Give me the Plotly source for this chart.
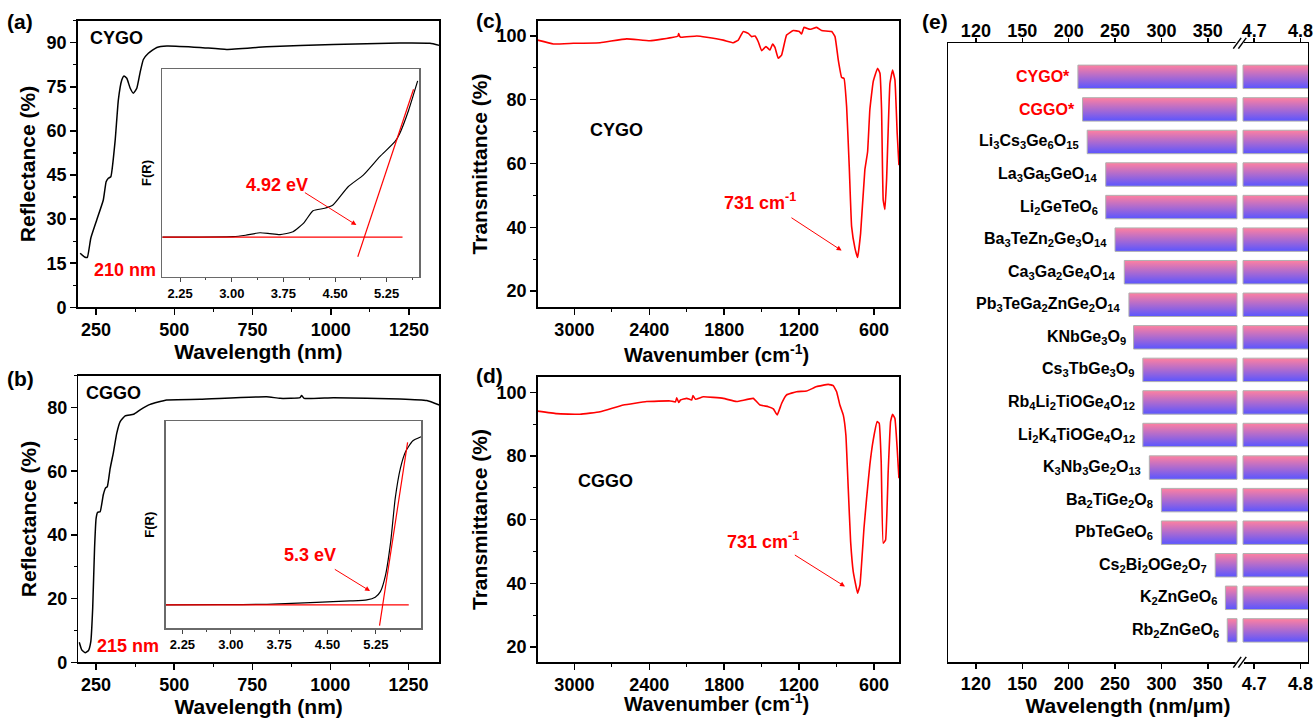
import plotly.graph_objects as go
import numpy as np

FONT = "Liberation Sans, Arial, sans-serif"
RED = "#ff0000"

# ---------------- (a) CYGO diffuse reflectance ----------------
a_wl = [199, 215, 222, 233, 252, 273, 282, 289, 297, 311, 321, 332, 339, 348, 359, 369, 380, 391, 401, 417,
        444, 476, 582, 667, 795, 1008, 1221, 1317, 1347]
a_refl = [18.4, 17.0, 17.0, 23.5, 29.7, 36.5, 42.7, 43.9, 44.4, 56.9, 70.5, 77.3, 78.7, 77.9, 74.5, 72.8, 74.5,
          80.1, 84.3, 86.4, 88.4, 88.9, 88.4, 87.7, 88.6, 89.4, 89.9, 89.8, 89.1]
a_ins_ev = [1.99, 2.5, 3.02, 3.2, 3.41, 3.55, 3.70, 3.89, 4.04, 4.18, 4.35, 4.47, 4.69, 4.91, 5.15, 5.37, 5.44, 5.57, 5.70]
a_ins_f = [0.191, 0.191, 0.193, 0.200, 0.212, 0.208, 0.203, 0.217, 0.257, 0.318, 0.330, 0.346, 0.434, 0.49,
           0.579, 0.651, 0.691, 0.804, 0.944]
a_base_ev = [1.99, 5.48]
a_base_f = [0.191, 0.191]
a_tan_ev = [4.83, 5.64]
a_tan_f = [0.096, 0.904]

# ---------------- (b) CGGO diffuse reflectance ----------------
b_wl = [196, 204, 215, 225, 233, 239, 245, 250, 255, 263, 273, 280, 286, 295, 305, 316, 327, 343, 370, 391,
        423, 476, 583, 796, 839, 903, 908, 916, 1010, 1223, 1309, 1349]
b_refl = [6.3, 3.9, 3.0, 3.6, 6.5, 17.0, 35.8, 45.2, 47.1, 47.3, 52.6, 54.7, 55.2, 60.9, 65.7, 71.9, 75.6, 77.4,
          77.9, 79.3, 81.0, 82.4, 82.6, 83.4, 82.9, 83.1, 83.8, 82.9, 83.1, 82.7, 82.2, 80.8]
b_ins_ev = [1.99, 2.8, 3.56, 4.33, 4.85, 5.11, 5.24, 5.32, 5.40, 5.48, 5.55, 5.63, 5.71, 5.82, 5.95]
b_ins_f = [0.113, 0.114, 0.116, 0.125, 0.132, 0.137, 0.150, 0.177, 0.257, 0.418, 0.627, 0.772, 0.852, 0.904, 0.924]
b_base_ev = [1.99, 5.76]
b_base_f = [0.113, 0.113]
b_tan_ev = [5.307, 5.742]
b_tan_f = [0.013, 0.897]

# ---------------- (c) CYGO FTIR ----------------
c_wn = [3294, 3168, 3008, 2794, 2581, 2394, 2207, 2170, 2164, 2158, 2148, 2020, 1940, 1807, 1727, 1687, 1647,
        1607, 1580, 1553, 1527, 1500, 1465, 1433, 1412, 1393, 1367, 1340, 1300, 1246, 1198, 1180, 1161, 1113,
        1059, 1019, 939, 912, 886, 859, 840, 819, 798, 779, 752, 731, 707, 673, 651, 633, 606, 571, 552, 539,
        526, 512, 499, 472, 451, 432, 414, 400]
c_t = [98.7, 97.5, 97.7, 97.9, 99.1, 98.5, 99.6, 100.0, 100.8, 100.0, 99.6, 100.0, 99.6, 98.7, 97.9, 98.7, 101.4,
       100.8, 99.8, 100.0, 98.2, 95.4, 96.7, 95.6, 97.5, 96.4, 93.0, 94.0, 100.3, 101.7, 101.4, 100.6, 102.7,
       102.1, 102.7, 101.7, 101.4, 99.8, 92.5, 87.0, 86.7, 77.8, 59.0, 40.2, 33.4, 30.5, 38.1, 58.0, 63.7, 76.8,
       85.7, 89.9, 88.3, 76.8, 48.5, 45.6, 54.8, 85.1, 89.3, 86.2, 69.5, 59.5]

# ---------------- (d) CGGO FTIR ----------------
d_wn = [3294, 3141, 2955, 2794, 2608, 2421, 2234, 2190, 2180, 2164, 2150, 2100, 2060, 2050, 2030, 1967, 1807,
        1700, 1567, 1513, 1447, 1406, 1375, 1340, 1300, 1220, 1140, 1059, 966, 926, 899, 873, 846, 825, 806,
        787, 766, 731, 712, 680, 659, 633, 606, 574, 558, 542, 526, 507, 486, 467, 451, 432, 414, 400]
d_t = [94.1, 93.3, 93.1, 93.9, 96.0, 97.1, 97.3, 97.0, 98.3, 96.8, 97.6, 98.1, 97.6, 99.0, 97.8, 98.6, 98.1,
       97.1, 98.1, 96.0, 95.5, 94.8, 92.9, 96.5, 99.2, 100.2, 100.4, 101.8, 102.5, 102.1, 100.2, 96.0, 92.9,
       86.6, 69.8, 53.1, 43.7, 36.9, 39.5, 57.3, 66.7, 77.2, 85.0, 90.8, 90.3, 78.2, 52.6, 53.6, 75.1, 90.8,
       93.1, 91.8, 82.4, 73.0]

# ---------------- (e) UV cutoff comparison ----------------
compounds = ["CYGO*", "CGGO*",
             "Li<sub>3</sub>Cs<sub>3</sub>Ge<sub>6</sub>O<sub>15</sub>",
             "La<sub>3</sub>Ga<sub>5</sub>GeO<sub>14</sub>",
             "Li<sub>2</sub>GeTeO<sub>6</sub>",
             "Ba<sub>3</sub>TeZn<sub>2</sub>Ge<sub>3</sub>O<sub>14</sub>",
             "Ca<sub>3</sub>Ga<sub>2</sub>Ge<sub>4</sub>O<sub>14</sub>",
             "Pb<sub>3</sub>TeGa<sub>2</sub>ZnGe<sub>2</sub>O<sub>14</sub>",
             "KNbGe<sub>3</sub>O<sub>9</sub>",
             "Cs<sub>3</sub>TbGe<sub>3</sub>O<sub>9</sub>",
             "Rb<sub>4</sub>Li<sub>2</sub>TiOGe<sub>4</sub>O<sub>12</sub>",
             "Li<sub>2</sub>K<sub>4</sub>TiOGe<sub>4</sub>O<sub>12</sub>",
             "K<sub>3</sub>Nb<sub>3</sub>Ge<sub>2</sub>O<sub>13</sub>",
             "Ba<sub>2</sub>TiGe<sub>2</sub>O<sub>8</sub>",
             "PbTeGeO<sub>6</sub>",
             "Cs<sub>2</sub>Bi<sub>2</sub>OGe<sub>2</sub>O<sub>7</sub>",
             "K<sub>2</sub>ZnGeO<sub>6</sub>",
             "Rb<sub>2</sub>ZnGeO<sub>6</sub>"]
this_work = [True, True, False, False, False, False, False, False, False, False, False, False, False, False,
             False, False, False, False]
uv_cutoff_nm = [210, 215, 220, 240, 240, 250, 260, 265, 270, 280, 280, 280, 287, 300, 300, 358, 369, 371]
ir_edge_um = [4.82, 4.82, 4.82, 4.82, 4.82, 4.82, 4.82, 4.82, 4.82, 4.82, 4.82, 4.82, 4.82, 4.82, 4.82, 4.82,
              4.82, 4.82]
e_tick_nm = [120, 150, 200, 250, 300, 350]
e_tick_um = [4.7, 4.8]
e_tick_text = ["120", "150", "200", "250", "300", "350", "4.7", "4.8"]

# broken-axis scale for panel (e): evenly spaced nm ticks, then a µm segment
NM_SCALE = e_tick_nm + [400]
BREAK_LO, BREAK_HI = 5.63, 5.76


def nm_pos(v):
    return float(np.interp(v, NM_SCALE, np.arange(len(NM_SCALE))))


def um_pos(v):
    return len(e_tick_nm) + (v - e_tick_um[0]) / (e_tick_um[1] - e_tick_um[0])


# ---------------- layout geometry (paper fractions) ----------------
DOM = {
    "a": ([0.0591, 0.3341], [0.572, 0.9712]),
    "ai": ([0.1235, 0.3189], [0.6146, 0.9035]),
    "b": ([0.0596, 0.3341], [0.0776, 0.4767]),
    "bi": ([0.1261, 0.3204], [0.1249, 0.4136]),
    "c": ([0.4092, 0.6844], [0.572, 0.9712]),
    "d": ([0.4092, 0.6844], [0.0776, 0.4753]),
    "e": ([0.7215, 0.9954], [0.0776, 0.9397]),
}

fig = go.Figure()


def line(x, y, xa, ya, color="black", width=1.5, shape="linear", smooth=None):
    ln = dict(color=color, width=width, shape=shape)
    if smooth is not None:
        ln["smoothing"] = smooth
    fig.add_trace(go.Scatter(x=x, y=y, mode="lines", line=ln, xaxis=xa, yaxis=ya,
                             showlegend=False, hoverinfo="skip"))


line(a_wl, a_refl, "x", "y", shape="spline", smooth=0.4)
line(a_ins_ev, a_ins_f, "x2", "y2", width=1.2, shape="spline", smooth=0.5)
line(a_base_ev, a_base_f, "x2", "y2", color=RED, width=1.2)
line(a_tan_ev, a_tan_f, "x2", "y2", color=RED, width=1.2)
line(b_wl, b_refl, "x3", "y3", shape="spline", smooth=0.4)
line(b_ins_ev, b_ins_f, "x4", "y4", width=1.2, shape="spline", smooth=0.5)
line(b_base_ev, b_base_f, "x4", "y4", color=RED, width=1.2)
line(b_tan_ev, b_tan_f, "x4", "y4", color=RED, width=1.2)
line(c_wn, c_t, "x5", "y5", color=RED, width=1.6, shape="spline", smooth=0.3)
line(d_wn, d_t, "x6", "y6", color=RED, width=1.6, shape="spline", smooth=0.3)

# ---- panel (e) bars with vertical gradient ----
n = len(compounds)
BAR_H = 0.36
grad = dict(type="vertical", colorscale=[[0, "#5a55ff"], [1, "#ff80a0"]])
annos = []
for i in range(n):
    yc = n - 1 - i
    x0 = nm_pos(uv_cutoff_nm[i])
    x1 = um_pos(ir_edge_um[i])
    y0, y1 = yc - BAR_H, yc + BAR_H
    xs = [x0, BREAK_LO, BREAK_LO, x0, x0, None, BREAK_HI, x1, x1, BREAK_HI, BREAK_HI]
    ys = [y0, y0, y1, y1, y0, None, y0, y0, y1, y1, y0]
    fig.add_trace(go.Scatter(x=xs, y=ys, mode="lines", fill="toself", fillgradient=grad,
                             line=dict(color="#b0b0b0", width=1), xaxis="x7", yaxis="y7",
                             showlegend=False, hoverinfo="skip"))
    annos.append(dict(x=x0, y=yc, xref="x7", yref="y7", text=compounds[i], showarrow=False,
                      xanchor="right", yanchor="middle", xshift=-6,
                      font=dict(family=FONT, size=16, weight="bold",
                                color=RED if this_work[i] else "black")))

# invisible trace for the top axis of (e)
fig.add_trace(go.Scatter(x=[0], y=[0], mode="markers", marker=dict(opacity=0), xaxis="x8", yaxis="y7",
                         showlegend=False, hoverinfo="skip"))

TICKF = dict(family=FONT, size=18, weight="bold", color="black")
TITLEF = dict(family=FONT, size=21, weight="bold", color="black")


def main_axis(dom, rng, title, dtick, minor_dtick, anchor, tick0=None, fmt=None, standoff=4):
    ax = dict(domain=dom, range=rng, showline=True, linecolor="black", linewidth=1.5, mirror=True,
              ticks="outside", ticklen=6, tickwidth=1.5, tickcolor="black", dtick=dtick,
              minor=dict(ticks="outside", ticklen=3, tickwidth=1.2, dtick=minor_dtick, tickcolor="black"),
              showgrid=False, zeroline=False, tickfont=TICKF, anchor=anchor, automargin=False)
    if title:
        ax["title"] = dict(text=title, font=TITLEF, standoff=standoff)
    if tick0 is not None:
        ax["tick0"] = tick0
        ax["minor"]["tick0"] = tick0
    if fmt:
        ax["tickformat"] = fmt
    return ax


def inset_axes(domx, domy, xr, anchor_x, anchor_y):
    xa = dict(domain=domx, range=xr, showline=True, linecolor="#6a6a6a", linewidth=1.5, mirror=True,
              ticks="outside", ticklen=4, tickwidth=1, tickcolor="#444", tick0=2.25, dtick=0.75,
              tickformat=".2f", minor=dict(ticks="outside", ticklen=2, dtick=0.375, tick0=2.25, tickcolor="#444"),
              showgrid=False, zeroline=False, anchor=anchor_y, automargin=False,
              tickfont=dict(family=FONT, size=13, weight="bold", color="black"))
    ya = dict(domain=domy, range=[0, 1], showline=True, linecolor="#6a6a6a", linewidth=1.5, mirror=True,
              showticklabels=False, ticks="", showgrid=False, zeroline=False, anchor=anchor_x, automargin=False,
              title=dict(text="F(R)", font=dict(family=FONT, size=13, weight="bold", color="black"), standoff=6))
    return xa, ya


lay = dict(width=1314, height=718, margin=dict(l=0, r=0, t=0, b=0), paper_bgcolor="white",
           plot_bgcolor="white", font=dict(family=FONT, weight="bold", color="black"), showlegend=False)

lay["xaxis"] = main_axis(DOM["a"][0], [191, 1346], "Wavelength (nm)", 250, 125, "y", tick0=250)
lay["yaxis"] = main_axis(DOM["a"][1], [0, 97.5], "Reflectance (%)", 15, 7.5, "x", tick0=0, standoff=5)
lay["xaxis2"], lay["yaxis2"] = inset_axes(DOM["ai"][0], DOM["ai"][1], [1.99, 5.72], "x2", "y2")
lay["xaxis3"] = main_axis(DOM["b"][0], [193, 1348], "Wavelength (nm)", 250, 125, "y3", tick0=250)
lay["yaxis3"] = main_axis(DOM["b"][1], [0, 90], "Reflectance (%)", 20, 10, "x3", tick0=0, standoff=5)
lay["xaxis4"], lay["yaxis4"] = inset_axes(DOM["bi"][0], DOM["bi"][1], [1.99, 5.95], "x4", "y4")
lay["xaxis5"] = main_axis(DOM["c"][0], [3294, 397], None, 600, 300, "y5", tick0=600)
lay["yaxis5"] = main_axis(DOM["c"][1], [14.9, 104.8], "Transmittance (%)", 20, 10, "x5", tick0=0, standoff=3)
lay["xaxis6"] = main_axis(DOM["d"][0], [3294, 397], None, 600, 300, "y6", tick0=600)
lay["yaxis6"] = main_axis(DOM["d"][1], [15.2, 104.9], "Transmittance (%)", 20, 10, "x6", tick0=0, standoff=3)

e_ticks = [nm_pos(v) for v in e_tick_nm] + [um_pos(v) for v in e_tick_um]
E_RANGE = [-0.6, 7.16]
lay["xaxis7"] = dict(domain=DOM["e"][0], range=E_RANGE, showline=True, linecolor="black", linewidth=1.5,
                     mirror=True, ticks="outside", ticklen=5, tickwidth=1.5, tickcolor="black",
                     tickmode="array", tickvals=e_ticks, ticktext=e_tick_text, showgrid=False,
                     zeroline=False, tickfont=TICKF, anchor="y7", automargin=False,
                     title=dict(text="Wavelength (nm/µm)", font=TITLEF, standoff=4))
lay["xaxis8"] = dict(range=E_RANGE, overlaying="x7", side="top", anchor="y7", ticks="outside", ticklen=4,
                     tickwidth=1.5, tickcolor="black", tickmode="array", tickvals=e_ticks, ticktext=e_tick_text,
                     showgrid=False, zeroline=False, tickfont=TICKF, automargin=False, showline=False,
                     ticklabelstandoff=-6)
lay["yaxis7"] = dict(domain=DOM["e"][1], range=[-0.98, n - 1 + 1.03], showline=True, linecolor="black",
                     linewidth=1.5, mirror=True, showticklabels=False, ticks="", showgrid=False,
                     zeroline=False, anchor="x7", automargin=False)

# text annotations
TXT = dict(family=FONT, size=18, weight="bold")
annos += [
    dict(x=314, y=91.5, xref="x", yref="y", text="CYGO", showarrow=False, font=dict(TXT, color="black")),
    dict(x=343, y=12.6, xref="x", yref="y", text="210 nm", showarrow=False, font=dict(TXT, color=RED)),
    dict(x=3.65, y=0.44, xref="x2", yref="y2", text="4.92 eV", showarrow=False, font=dict(TXT, color=RED)),
    dict(x=4.81, y=0.249, xref="x2", yref="y2", ax=4.04, ay=0.41, axref="x2", ayref="y2", text="",
         showarrow=True, arrowhead=2, arrowsize=1, arrowwidth=1, arrowcolor=RED),
    dict(x=305, y=84.5, xref="x3", yref="y3", text="CGGO", showarrow=False, font=dict(TXT, color="black")),
    dict(x=351, y=5.2, xref="x3", yref="y3", text="215 nm", showarrow=False, font=dict(TXT, color=RED)),
    dict(x=4.23, y=0.355, xref="x4", yref="y4", text="5.3 eV", showarrow=False, font=dict(TXT, color=RED)),
    dict(x=5.16, y=0.18, xref="x4", yref="y4", ax=4.59, ay=0.289, axref="x4", ayref="y4", text="",
         showarrow=True, arrowhead=2, arrowsize=1, arrowwidth=1, arrowcolor=RED),
    dict(x=2661, y=70.5, xref="x5", yref="y5", text="CYGO", showarrow=False, font=dict(TXT, color="black")),
    dict(x=1513, y=48.0, xref="x5", yref="y5", text="731 cm<sup>-1</sup>", showarrow=False,
         font=dict(TXT, color=RED)),
    dict(x=859, y=32.7, xref="x5", yref="y5", ax=1273, ay=43.3, axref="x5", ayref="y5", text="",
         showarrow=True, arrowhead=2, arrowsize=1, arrowwidth=1, arrowcolor=RED),
    dict(x=2749, y=72.1, xref="x6", yref="y6", text="CGGO", showarrow=False, font=dict(TXT, color="black")),
    dict(x=1487, y=53.6, xref="x6", yref="y6", text="731 cm<sup>-1</sup>", showarrow=False,
         font=dict(TXT, color=RED)),
    dict(x=832, y=39.0, xref="x6", yref="y6", ax=1246, ay=49.2, axref="x6", ayref="y6", text="",
         showarrow=True, arrowhead=2, arrowsize=1, arrowwidth=1, arrowcolor=RED),
]
# x-axis titles of the FTIR panels
WN_TITLE = "Wavenumber (cm<sup>-1</sup>)"
annos.append(dict(x=716 / 1314, y=1 - 353 / 718, xref="paper", yref="paper", text=WN_TITLE, showarrow=False,
                  xanchor="center", yanchor="middle", font=dict(TITLEF, size=20)))
annos.append(dict(x=716 / 1314, y=1.5 / 718, xref="paper", yref="paper", text=WN_TITLE, showarrow=False,
                  xanchor="center", yanchor="bottom", font=dict(TITLEF, size=20)))
PANEL = dict(family=FONT, size=21, weight="bold", color="black")
for lbl, px, py in [("(a)", 20, 22), ("(b)", 20, 378), ("(c)", 489, 20), ("(d)", 489, 375), ("(e)", 935, 22)]:
    annos.append(dict(x=px / 1314, y=1 - py / 718, xref="paper", yref="paper", text=lbl, showarrow=False,
                      xanchor="center", yanchor="middle", font=PANEL))
lay["annotations"] = annos

# axis break marks on panel (e)
shapes = []
ytop, ybot = DOM["e"][1][1], DOM["e"][1][0]
for yy in (ytop, ybot):
    shapes.append(dict(type="rect", xref="x7", yref="paper", x0=5.60, x1=5.78, y0=yy - 0.004, y1=yy + 0.004,
                       fillcolor="white", line=dict(width=0)))
    for off in (0.0, 0.11):
        shapes.append(dict(type="line", xref="x7", yref="paper", x0=5.55 + off, x1=5.72 + off,
                           y0=yy - 0.0075, y1=yy + 0.0075, line=dict(color="black", width=1.5)))
lay["shapes"] = shapes

fig.update_layout(**lay)
fig.write_html("out.html", config={"displayModeBar": False, "staticPlot": True},
               post_script="document.body.style.margin='0px';document.body.style.overflow='hidden';")
